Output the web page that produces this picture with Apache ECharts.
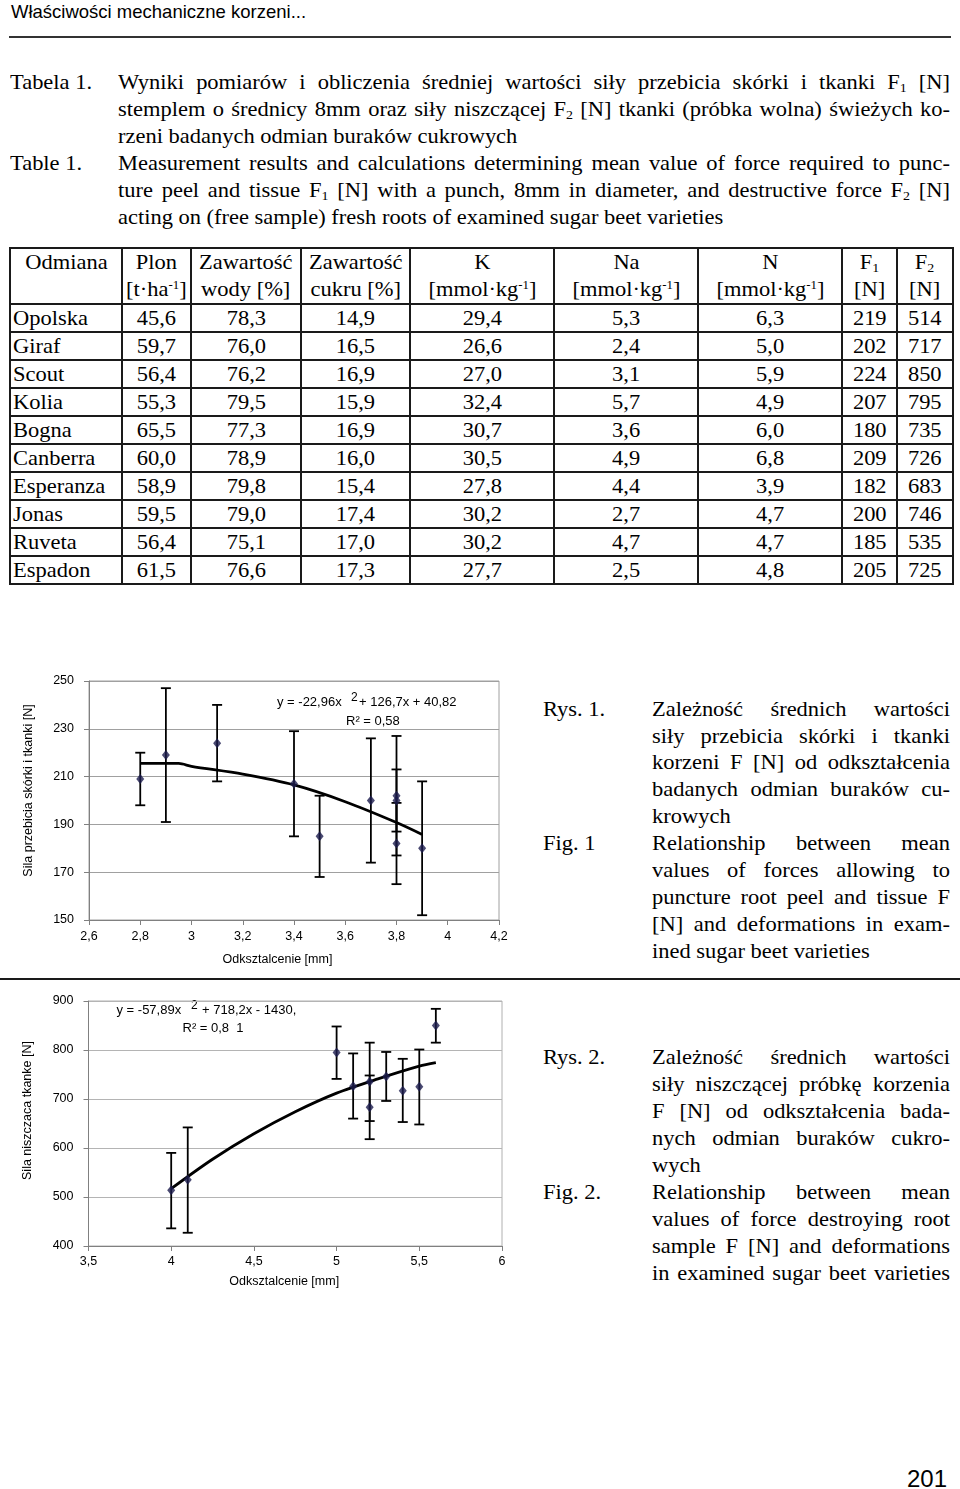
<!DOCTYPE html>
<html><head><meta charset="utf-8">
<script src="https://cdn.jsdelivr.net/npm/echarts@6/dist/echarts.min.js"></script>
<style>
html,body{margin:0;padding:0;background:#fff;}
#page{position:relative;width:960px;height:1489px;overflow:hidden;background:#fff;font-family:'Liberation Serif','Times New Roman',serif;color:#000;}
.ln{position:absolute;height:27px;line-height:27px;font-size:21px;text-align:justify;text-align-last:justify;transform:scaleX(1.07);transform-origin:0 0;}
.ln.l{text-align:left;text-align-last:left;}
.lab{position:absolute;height:27px;line-height:27px;font-size:21px;transform:scaleX(1.07);transform-origin:0 0;white-space:nowrap;}
sub{font-size:13px;vertical-align:-3px;line-height:0;}
sup{font-size:12px;vertical-align:7px;line-height:0;}
#tbl{position:absolute;left:9px;top:247px;width:943px;border-collapse:collapse;table-layout:fixed;font-size:21px;}
#tbl td{border:2px solid #1a1a1a;padding:0;text-align:center;vertical-align:middle;white-space:nowrap;overflow:visible;}
#tbl td span{display:inline-block;transform:scaleX(1.07);}
#tbl td.n{text-align:left;padding-left:2px;}
#tbl td.n span{transform-origin:0 50%;}
#tbl tr.h td{line-height:27px;height:52px;}
#tbl tr.r td{height:26px;line-height:26px;}
#chart{position:absolute;left:0;top:0;width:960px;height:1489px;}
</style></head>
<body>
<div id="page">
  <div style="position:absolute;left:11px;top:0.7px;height:22px;line-height:22px;font:18.5px 'Liberation Sans',Arial,sans-serif;white-space:nowrap;">Właściwości mechaniczne korzeni...</div>
  <div style="position:absolute;left:9px;top:35.5px;width:942px;height:2.5px;background:#333;"></div>

  <div class="lab" style="left:10px;top:68.5px;">Tabela 1.</div>
  <div class="ln" style="left:118px;top:68.5px;width:777.6px;">Wyniki pomiarów i obliczenia średniej wartości siły przebicia skórki i tkanki F<sub>1</sub> [N]</div>
  <div class="ln" style="left:118px;top:95.5px;width:777.6px;">stemplem o średnicy 8mm oraz siły niszczącej F<sub>2</sub> [N] tkanki (próbka wolna) świeżych ko-</div>
  <div class="ln l" style="left:118px;top:122.5px;width:777.6px;">rzeni badanych odmian buraków cukrowych</div>
  <div class="lab" style="left:10px;top:149.5px;">Table 1.</div>
  <div class="ln" style="left:118px;top:149.5px;width:777.6px;">Measurement results and calculations determining mean value of force required to punc-</div>
  <div class="ln" style="left:118px;top:176.5px;width:777.6px;">ture peel and tissue F<sub>1</sub> [N] with a punch, 8mm in diameter, and destructive force F<sub>2</sub> [N]</div>
  <div class="ln l" style="left:118px;top:203.5px;width:777.6px;">acting on (free sample) fresh roots of examined sugar beet varieties</div>

  <table id="tbl"></table>

  <div class="lab" style="left:543px;top:695.5px;">Rys. 1.</div>
  <div class="ln" style="left:652px;top:695.5px;width:278.5px;">Zależność średnich wartości</div>
  <div class="ln" style="left:652px;top:722.5px;width:278.5px;">siły przebicia skórki i tkanki</div>
  <div class="ln" style="left:652px;top:748.5px;width:278.5px;">korzeni F [N] od odkształcenia</div>
  <div class="ln" style="left:652px;top:775.5px;width:278.5px;">badanych odmian buraków cu-</div>
  <div class="ln l" style="left:652px;top:802.5px;width:278.5px;">krowych</div>
  <div class="lab" style="left:543px;top:829.5px;">Fig. 1</div>
  <div class="ln" style="left:652px;top:829.5px;width:278.5px;">Relationship between mean</div>
  <div class="ln" style="left:652px;top:856.5px;width:278.5px;">values of forces allowing to</div>
  <div class="ln" style="left:652px;top:883.5px;width:278.5px;">puncture root peel and tissue F</div>
  <div class="ln" style="left:652px;top:910.5px;width:278.5px;">[N] and deformations in exam-</div>
  <div class="ln l" style="left:652px;top:937.5px;width:278.5px;">ined sugar beet varieties</div>

  <div style="position:absolute;left:0;top:978px;width:960px;height:2px;background:#1a1a1a;"></div>

  <div class="lab" style="left:543px;top:1043.5px;">Rys. 2.</div>
  <div class="ln" style="left:652px;top:1043.5px;width:278.5px;">Zależność średnich wartości</div>
  <div class="ln" style="left:652px;top:1070.5px;width:278.5px;">siły niszczącej próbkę korzenia</div>
  <div class="ln" style="left:652px;top:1097.5px;width:278.5px;">F [N] od odkształcenia bada-</div>
  <div class="ln" style="left:652px;top:1124.5px;width:278.5px;">nych odmian buraków cukro-</div>
  <div class="ln l" style="left:652px;top:1151.5px;width:278.5px;">wych</div>
  <div class="lab" style="left:543px;top:1178.5px;">Fig. 2.</div>
  <div class="ln" style="left:652px;top:1178.5px;width:278.5px;">Relationship between mean</div>
  <div class="ln" style="left:652px;top:1205.5px;width:278.5px;">values of force destroying root</div>
  <div class="ln" style="left:652px;top:1232.5px;width:278.5px;">sample F [N] and deformations</div>
  <div class="ln" style="left:652px;top:1259.5px;width:278.5px;">in examined sugar beet varieties</div>

  <div style="position:absolute;left:907px;top:1465px;height:28px;line-height:28px;font:24px 'Liberation Sans',Arial,sans-serif;">201</div>

  <div id="chart"></div>
</div>
<script>
// ---- Table data ----
const varieties = ['Opolska','Giraf','Scout','Kolia','Bogna','Canberra','Esperanza','Jonas','Ruveta','Espadon'];
const plon   = [45.6, 59.7, 56.4, 55.3, 65.5, 60.0, 58.9, 59.5, 56.4, 61.5];
const woda   = [78.3, 76.0, 76.2, 79.5, 77.3, 78.9, 79.8, 79.0, 75.1, 76.6];
const cukier = [14.9, 16.5, 16.9, 15.9, 16.9, 16.0, 15.4, 17.4, 17.0, 17.3];
const potas  = [29.4, 26.6, 27.0, 32.4, 30.7, 30.5, 27.8, 30.2, 30.2, 27.7];
const sod    = [5.3, 2.4, 3.1, 5.7, 3.6, 4.9, 4.4, 2.7, 4.7, 2.5];
const azot   = [6.3, 5.0, 5.9, 4.9, 6.0, 6.8, 3.9, 4.7, 4.7, 4.8];
const f1     = [219, 202, 224, 207, 180, 209, 182, 200, 185, 205];
const f2     = [514, 717, 850, 795, 735, 726, 683, 746, 535, 725];
const headers = [
  ['Odmiana','&nbsp;'],
  ['Plon','[t·ha<sup>-1</sup>]'],
  ['Zawartość','wody [%]'],
  ['Zawartość','cukru [%]'],
  ['K','[mmol·kg<sup>-1</sup>]'],
  ['Na','[mmol·kg<sup>-1</sup>]'],
  ['N','[mmol·kg<sup>-1</sup>]'],
  ['F<sub>1</sub>','[N]'],
  ['F<sub>2</sub>','[N]']
];
const colWidths = [112, 69, 110, 109, 144, 144, 144, 55, 56];

// ---- Chart 1 data (Rys. 1) ----
const x1  = [2.8, 2.9, 3.1, 3.4, 3.5, 3.7, 3.8, 3.8, 3.8, 3.9];
const y1  = [209, 219, 224, 207, 185, 200, 202, 200, 182, 180];
const lo1 = [198, 191, 208, 185, 168, 174, 177, 187, 165, 152];
const hi1 = [220, 247, 240, 229, 202, 226, 227, 213, 199, 208];
const trend1X = [2.8, 2.95, 3.0, 3.2, 3.4, 3.6, 3.8, 3.9];
const trend1Y = [215.5, 215.5, 214.3, 211, 206.5, 199.5, 190.8, 185.8];

// ---- Chart 2 data (Rys. 2) ----
const x2  = [4.0, 4.1, 5.0, 5.1, 5.2, 5.2, 5.3, 5.4, 5.5, 5.6];
const y2  = [514, 535, 795, 726, 735, 683, 746, 717, 725, 850];
const lo2 = [436, 427, 741, 660, 655, 618, 696, 653, 648, 815];
const hi2 = [590, 642, 848, 793, 815, 748, 796, 782, 801, 884];
const trend2X = [4.0, 4.25, 4.5, 4.75, 5.0, 5.25, 5.5, 5.6];
const trend2Y = [517, 577, 629, 674, 712, 741, 767, 774];

// ---- build table ----
const fmt1 = v => v.toFixed(1).replace('.', ',');
(function buildTable(){
  const t = document.getElementById('tbl');
  let html = '<colgroup>' + colWidths.map(w => '<col style="width:' + w + 'px">').join('') + '</colgroup>';
  html += '<tr class="h">' + headers.map(h => '<td><span>' + h[0] + '<br>' + h[1] + '</span></td>').join('') + '</tr>';
  varieties.forEach((v, i) => {
    const cells = [fmt1(plon[i]), fmt1(woda[i]), fmt1(cukier[i]), fmt1(potas[i]), fmt1(sod[i]), fmt1(azot[i]), String(f1[i]), String(f2[i])];
    html += '<tr class="r"><td class="n"><span>' + v + '</span></td>' + cells.map(c => '<td><span>' + c + '</span></td>').join('') + '</tr>';
  });
  t.innerHTML = html;
})();

// ---- charts ----
const FONT = "'Liberation Sans', Arial, sans-serif";
const comma = v => String(+(+v).toFixed(2)).replace('.', ',');
const zip = (a, b) => a.map((v, i) => [v, b[i]]);

function errSeries(idx, xs, lo, hi) {
  return {
    type: 'custom', xAxisIndex: idx, yAxisIndex: idx, z: 2, silent: true,
    data: xs.map((x, i) => [x, lo[i], hi[i]]),
    encode: { x: 0, y: [1, 2] },
    renderItem: function (params, api) {
      const x = api.value(0);
      const a = api.coord([x, api.value(1)]);
      const b = api.coord([x, api.value(2)]);
      const w = 5;
      const st = { stroke: '#000', lineWidth: 1.8 };
      return { type: 'group', children: [
        { type: 'line', shape: { x1: a[0], y1: a[1], x2: b[0], y2: b[1] }, style: st },
        { type: 'line', shape: { x1: a[0] - w, y1: a[1], x2: a[0] + w, y2: a[1] }, style: st },
        { type: 'line', shape: { x1: b[0] - w, y1: b[1], x2: b[0] + w, y2: b[1] }, style: st }
      ]};
    }
  };
}

function xAxis(idx, min, max, interval, margin, pad) {
  return {
    type: 'value', gridIndex: idx, min: min, max: max, interval: interval,
    name: 'Odksztalcenie [mm]', nameLocation: 'middle', nameGap: pad.gap,
    nameTextStyle: { fontFamily: FONT, fontSize: 12.5, color: '#000', padding: [0, pad.shift, 0, 0] },
    axisLine: { show: true, lineStyle: { color: '#808080', width: 1 } },
    axisTick: { show: true, length: 5, lineStyle: { color: '#808080' } },
    axisLabel: { fontFamily: FONT, fontSize: 12.5, color: '#000', margin: margin, formatter: comma },
    splitLine: { show: false }
  };
}
function yAxis(idx, name, min, max, interval, gridColor, pad) {
  return {
    type: 'value', gridIndex: idx, min: min, max: max, interval: interval,
    name: name, nameLocation: 'middle', nameGap: pad.gap, nameRotate: 90,
    nameTextStyle: { fontFamily: FONT, fontSize: 12.5, color: '#000', padding: [0, 0, 0, pad.shift] },
    axisLine: { show: true, lineStyle: { color: '#808080', width: 1 } },
    axisTick: { show: true, length: 5, lineStyle: { color: '#808080' } },
    axisLabel: { fontFamily: FONT, fontSize: 12.5, color: '#000', margin: 15, formatter: comma },
    splitLine: { show: true, lineStyle: { color: gridColor, width: 1 } }
  };
}
function txt(x, y, s, size) {
  return { type: 'text', x: x, y: y, silent: true,
    style: { text: s, fill: '#000', font: (size || 13) + 'px ' + FONT, textAlign: 'left', textVerticalAlign: 'middle' } };
}

const chart = echarts.init(document.getElementById('chart'), null, { renderer: 'canvas' });
chart.setOption({
  animation: false,
  backgroundColor: 'transparent',
  grid: [
    { left: 89, top: 681, width: 410, height: 239, show: true, borderColor: '#a0a0a0', borderWidth: 1, backgroundColor: 'transparent' },
    { left: 88.5, top: 1001, width: 413.5, height: 245, show: true, borderColor: '#b0b0b0', borderWidth: 1, backgroundColor: 'transparent' }
  ],
  xAxis: [
    xAxis(0, 2.6, 4.2, 0.2, 10, { gap: 33, shift: 33 }),
    xAxis(1, 3.5, 6, 0.5, 9, { gap: 29, shift: 22 })
  ],
  yAxis: [
    yAxis(0, 'Sila przebicia skórki i tkanki [N]', 150, 250, 20, '#a0a0a0', { gap: 54, shift: 20 }),
    yAxis(1, 'Sila niszczaca tkanke [N]', 400, 900, 100, '#b4b4b4', { gap: 54, shift: 26 })
  ],
  series: [
    errSeries(0, x1, lo1, hi1),
    { type: 'line', xAxisIndex: 0, yAxisIndex: 0, z: 3, data: zip(trend1X, trend1Y), smooth: 0.3, symbol: 'none', silent: true,
      lineStyle: { color: '#000', width: 2.8 } },
    { type: 'scatter', xAxisIndex: 0, yAxisIndex: 0, z: 4, data: zip(x1, y1), symbol: 'diamond', symbolSize: [8, 10],
      itemStyle: { color: '#1c1c4e' } },
    errSeries(1, x2, lo2, hi2),
    { type: 'line', xAxisIndex: 1, yAxisIndex: 1, z: 3, data: zip(trend2X, trend2Y), smooth: 0.3, symbol: 'none', silent: true,
      lineStyle: { color: '#000', width: 2.8 } },
    { type: 'scatter', xAxisIndex: 1, yAxisIndex: 1, z: 4, data: zip(x2, y2), symbol: 'diamond', symbolSize: [8, 10],
      itemStyle: { color: '#1c1c4e' } }
  ],
  graphic: [
    txt(277, 702, 'y = -22,96x'),
    txt(351, 698, '2', 12),
    txt(359, 702, '+ 126,7x + 40,82'),
    txt(346, 721, 'R² = 0,58'),
    txt(116.5, 1010, 'y = -57,89x'),
    txt(191, 1006, '2', 12),
    txt(202, 1010, '+ 718,2x - 1430,'),
    txt(182.5, 1028, 'R² = 0,8  1')
  ]
});
</script>
</body></html>
